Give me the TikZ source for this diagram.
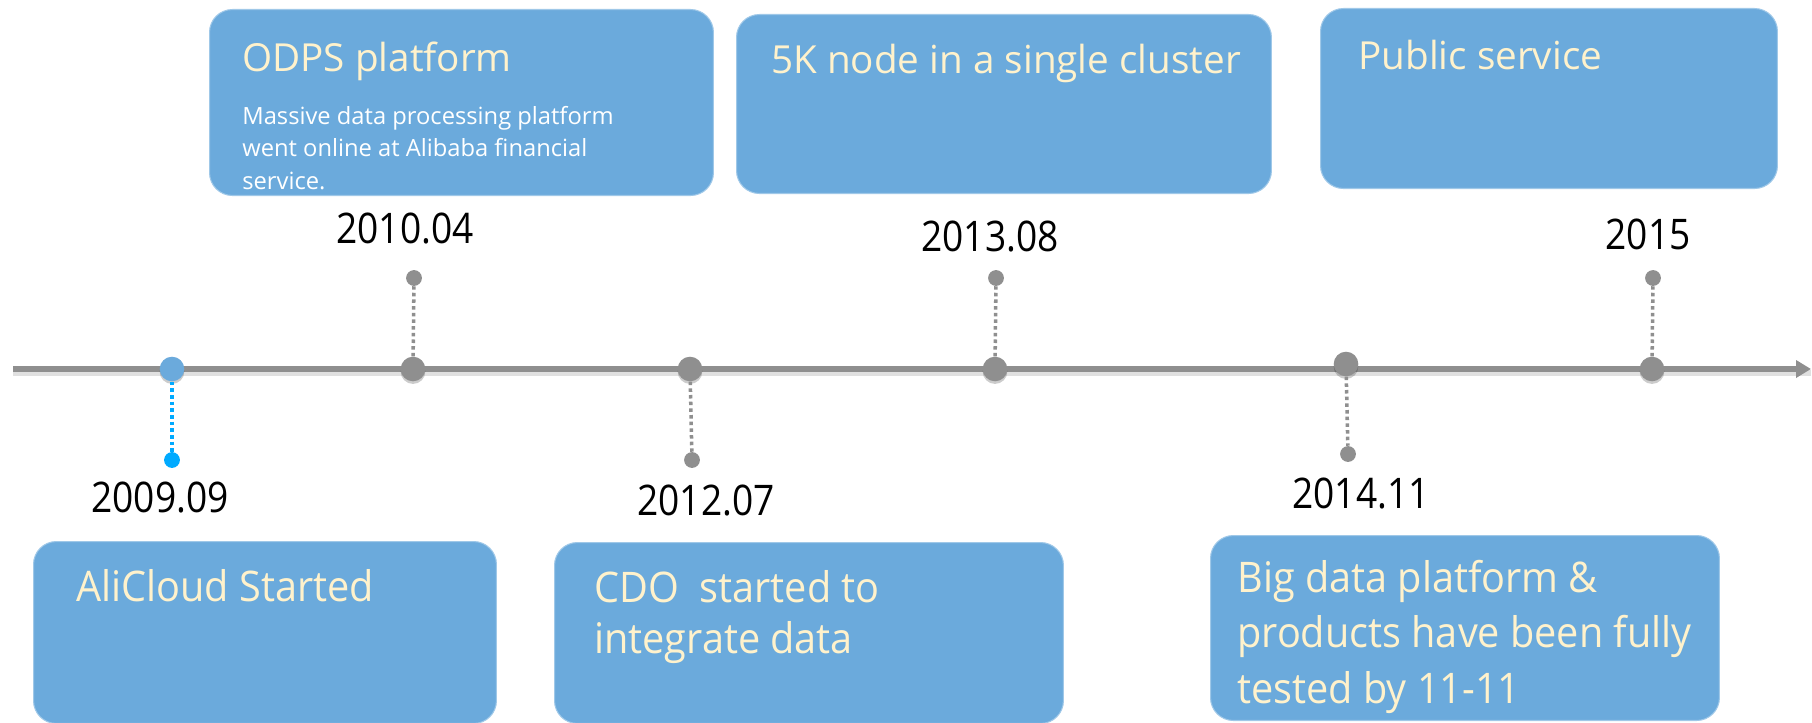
\documentclass[tikz,border=0pt]{standalone}
\usepackage{fontspec}
\setmainfont{Open Sans}
\newfontfamily\narrowsans{Open Sans}[FakeStretch=0.88]
\newfontfamily\cardsans{Open Sans}[FakeStretch=0.94]
\usetikzlibrary{arrows.meta,shadows}

\definecolor{boxblue}{HTML}{6BAADC}
\definecolor{titlecream}{HTML}{FFF2CC}
\definecolor{dotgray}{HTML}{8F8F8F}
\definecolor{stemblue}{HTML}{00AAFF}

\tikzset{
    card/.style={fill=boxblue, draw=boxblue!65!white, line width=0.6pt, rounded corners=13pt, anchor=north west, inner sep=0pt},
    bigdot/.style={circle, fill=dotgray, minimum size=14pt, inner sep=0pt, drop shadow={shadow xshift=0pt, shadow yshift=-1.5pt, opacity=0.2, fill=black}},
    smalldot/.style={circle, fill=dotgray, minimum size=9pt, inner sep=0pt},
    stem/.style={dotgray, line width=2pt, dash pattern=on 2pt off 1.8pt},
    datelabel/.style={anchor=base, inner sep=0pt, font=\narrowsans\fontsize{24}{28}\selectfont},
    toptitle/.style={anchor=base west, inner sep=0pt, text=titlecream, font=\fontsize{22}{28}\selectfont},
    lowtitle/.style={anchor=base west, inner sep=0pt, align=left, text=titlecream, font=\cardsans\fontsize{24}{31.5}\selectfont},
    note/.style={anchor=base west, inner sep=0pt, align=left, text=white, font=\fontsize{13.5}{18.4}\selectfont}
}

\begin{document}
\begin{tikzpicture}[x=0.02cm, y=-0.02cm]
    \clip (0,0) rectangle (1812,723);

    \node[card, minimum width=10.08cm, minimum height=3.72cm] (odpsbox) at (209,9) {};
    \node[card, minimum width=10.70cm, minimum height=3.58cm] (clusterbox) at (736,14) {};
    \node[card, minimum width=9.14cm, minimum height=3.60cm] (publicbox) at (1320,8) {};
    \node[card, minimum width=9.26cm, minimum height=3.64cm] (alicloudbox) at (33,541) {};
    \node[card, minimum width=10.18cm, minimum height=3.62cm] (cdobox) at (554,542) {};
    \node[card, minimum width=10.18cm, minimum height=3.70cm] (bigdatabox) at (1210,535) {};

    \node[toptitle] (odpstitle) at (242,72) {ODPS platform};
    \node[note] (odpsnote) at (242,189) {Massive data processing platform\\went online at Alibaba financial\\service.};
    \node[toptitle] (clustertitle) at (771,74) {5K node in a single cluster};
    \node[toptitle] (publictitle) at (1358,70) {Public service};
    \node[lowtitle] (alicloudtitle) at (76,601) {AliCloud Started};
    \node[lowtitle, font=\cardsans\fontsize{24}{29}\selectfont] (cdotitle) at (594,653) {CDO\ \ started to\\integrate data};
    \node[lowtitle] (bigdatatitle) at (1237,703) {Big data platform \&\\products have been fully\\tested by 11-11};

    \coordinate (axisstart) at (13,369);
    \coordinate (axisend) at (1811,369);
    \draw[line width=3.4pt, black, opacity=0.12] ([yshift=-2.5pt]axisstart) -- ([yshift=-2.5pt]axisend);
    \draw[line width=3.4pt, dotgray, -{Triangle[length=8.5pt,width=9.6pt]}] (axisstart) -- (axisend);

    \node[bigdot, fill=boxblue] (m0909) at (172,369) {};
    \node[bigdot] (m1004) at (413,369) {};
    \node[bigdot] (m1207) at (690,369) {};
    \node[bigdot] (m1308) at (995,369) {};
    \node[bigdot] (m1411) at (1346,364) {};
    \node[bigdot] (m2015) at (1652,369) {};

    \node[smalldot, fill=stemblue] (s0909) at (172,460) {};
    \node[smalldot] (s1004) at (414,278) {};
    \node[smalldot] (s1207) at (692,460) {};
    \node[smalldot] (s1308) at (996,278) {};
    \node[smalldot] (s1411) at (1348,454) {};
    \node[smalldot] (s2015) at (1653,278) {};

    \draw[stem, stemblue] (m0909) -- (s0909);
    \draw[stem] (m1004) -- (s1004);
    \draw[stem] (m1207) -- (s1207);
    \draw[stem] (m1308) -- (s1308);
    \draw[stem] (m1411) -- (s1411);
    \draw[stem] (m2015) -- (s2015);

    \node[datelabel] (d0909) at (160,512) {2009.09};
    \node[datelabel] (d1004) at (405,243) {2010.04};
    \node[datelabel] (d1207) at (706,515) {2012.07};
    \node[datelabel] (d1308) at (990,251) {2013.08};
    \node[datelabel] (d1411) at (1361,508) {2014.11};
    \node[datelabel] (d2015) at (1648,249) {2015};
\end{tikzpicture}
\end{document}
